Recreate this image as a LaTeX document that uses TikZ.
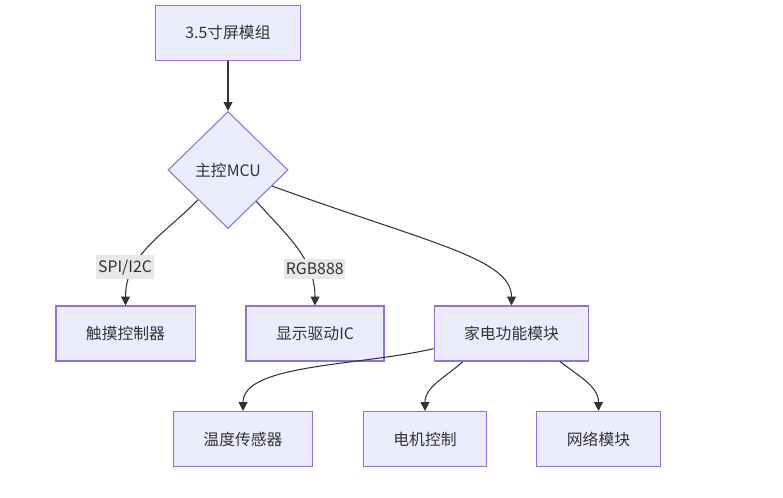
\documentclass[tikz,border=0pt]{standalone}
\usepackage{fontspec}
\setmainfont{Noto Sans CJK SC}
\usetikzlibrary{shapes.geometric,arrows.meta}
\definecolor{boxfill}{HTML}{ECECFF}
\definecolor{boxline}{HTML}{9370DB}
\definecolor{ink}{HTML}{333333}
\definecolor{labelbg}{HTML}{E8E8E8}
\tikzset{box/.style={draw=boxline, fill=boxfill, line width=0.6pt, minimum height=1.1cm, inner xsep=0.6cm, font=\fontsize{9}{11}\selectfont},
	lbl/.style={fill=labelbg, inner xsep=1pt, inner ysep=2.5pt, font=\fontsize{9}{11}\selectfont}}

\begin{document}
\begin{tikzpicture}[x=0.02cm, y=-0.02cm, color=ink, line width=0.6pt, >={Triangle[length=5pt,width=5pt]}]
		\useasboundingbox (0,0) rectangle (783,497);
		\node[box](screen) at (228,33){3.5寸屏模组};
		\node[box, diamond, aspect=1, inner sep=0pt, minimum width=2.4cm, minimum height=2.34cm](mcu) at (228,170){主控MCU};
		\node[box](touch) at (125.5,333.5){触摸控制器};
		\node[box](disp) at (315,333.5){显示驱动IC};
		\node[box](appl) at (511.5,333.5){家电功能模块};
		\node[box](temp) at (243,439){温度传感器};
		\node[box](motor) at (425,439){电机控制};
		\node[box](net) at (598.5,439){网络模块};
		\draw[->](screen) to (mcu);
		\draw[->](mcu) to[out=225, in=90] node[lbl, pos=0.7, xshift=-0.19cm]{SPI/I2C}(touch);
		\draw[->](mcu) to[out=-48, in=90] node[lbl, pos=0.7, xshift=0.13cm]{RGB888}(disp);
		\draw[->](mcu) to[out=-20, in=90, out looseness=1.6, in looseness=0.45](appl);
		\draw[->](appl.191) to[out=193, in=90, in looseness=0.6](temp);
		\draw[->](appl.210) to[out=222, in=90](motor);
		\draw[->](appl.-30) to[out=-38, in=90](net);
	\end{tikzpicture}
\end{document}
